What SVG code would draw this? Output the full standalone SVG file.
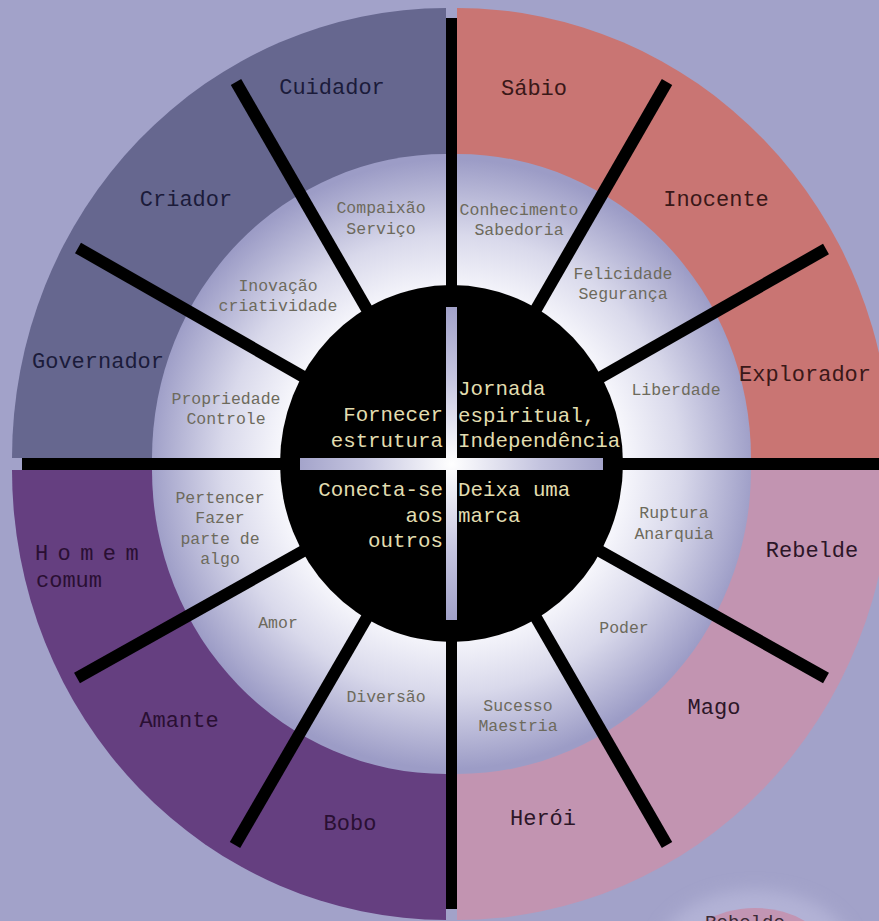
<svg xmlns="http://www.w3.org/2000/svg" width="879" height="921" viewBox="0 0 879 921">
<defs>
  <radialGradient id="ringGrad" gradientUnits="userSpaceOnUse" cx="451.5" cy="464" r="305">
    <stop offset="0.56" stop-color="#f7f7fc"/>
    <stop offset="0.75" stop-color="#d9d9eb"/>
    <stop offset="1" stop-color="#9c9cc6"/>
  </radialGradient>
  <radialGradient id="crossGrad" gradientUnits="userSpaceOnUse" cx="451.5" cy="464" r="160">
    <stop offset="0" stop-color="#ffffff"/>
    <stop offset="0.55" stop-color="#c4c4df"/>
    <stop offset="1" stop-color="#a0a0c8"/>
  </radialGradient>
  <filter id="blur" x="-50%" y="-50%" width="200%" height="200%">
    <feGaussianBlur stdDeviation="8"/>
  </filter>
  <style>
    .mono { font-family: "Liberation Mono", "Courier New", "DejaVu Sans Mono", monospace; }
    .outer { font-size: 22px; text-anchor: middle; }
    .inner { font-size: 16.5px; text-anchor: middle; fill: #6d6a5c; }
    .center { font-size: 20.8px; fill: #e2ddb0; }
    .tl { fill: #1b1b3a; }
    .tr { fill: #3a1818; }
    .bl { fill: #2a0f33; }
    .br { fill: #2c1628; }
    .spoke { stroke: #000; stroke-width: 12; stroke-linecap: butt; }
  </style>
</defs>

<rect width="879" height="921" fill="#a2a2c9"/>

<!-- bottom partial figure -->
<g id="rebelde-fragment">
  <ellipse cx="755" cy="960" rx="100" ry="70" fill="#b2b2d6" filter="url(#blur)"/>
  <ellipse cx="755" cy="958" rx="74" ry="50" fill="#c295b3"/>
  <text class="mono" x="745" y="928" font-size="19" text-anchor="middle" fill="#3a2a35">Rebelde</text>
</g>

<!-- quadrants -->
<g id="quadrant-tl">
  <path d="M446 458 L446 8 A434 450 0 0 0 12 458 Z" fill="#66678f"/>
  <path d="M446 458 L446 154 A294 304 0 0 0 152 458 Z" fill="url(#ringGrad)"/>
</g>
<g id="quadrant-tr">
  <path d="M457 458 L457 8 A434 450 0 0 1 891 458 Z" fill="#c97573"/>
  <path d="M457 458 L457 154 A294 304 0 0 1 751 458 Z" fill="url(#ringGrad)"/>
</g>
<g id="quadrant-bl">
  <path d="M446 470 L12 470 A434 450 0 0 0 446 920 Z" fill="#653f80"/>
  <path d="M446 470 L152 470 A294 304 0 0 0 446 774 Z" fill="url(#ringGrad)"/>
</g>
<g id="quadrant-br">
  <path d="M457 470 L891 470 A434 450 0 0 1 457 920 Z" fill="#c294b1"/>
  <path d="M457 470 L751 470 A294 304 0 0 1 457 774 Z" fill="url(#ringGrad)"/>
</g>

<!-- dividers -->
<g id="connectors">
  <rect x="446" y="18" width="11" height="891" fill="#000"/>
  <rect x="22" y="458" width="857" height="12" fill="#000"/>
  <line class="spoke" x1="236" y1="82" x2="380" y2="332"/>
  <line class="spoke" x1="78" y1="248" x2="330" y2="392"/>
  <line class="spoke" x1="667" y1="82" x2="523" y2="332"/>
  <line class="spoke" x1="826" y1="249" x2="573" y2="393"/>
  <line class="spoke" x1="77" y1="678" x2="330" y2="536"/>
  <line class="spoke" x1="235" y1="845" x2="380" y2="595"/>
  <line class="spoke" x1="826" y1="678" x2="573" y2="536"/>
  <line class="spoke" x1="667" y1="845" x2="523" y2="595"/>
</g>

<!-- center -->
<g id="center">
  <ellipse cx="451.5" cy="463.5" rx="171.5" ry="178.5" fill="#000"/>
  <rect x="446" y="307" width="11" height="313" fill="url(#crossGrad)"/>
  <rect x="300" y="458" width="303" height="12" fill="url(#crossGrad)"/>
</g>

<g id="center-tl" class="mono center" text-anchor="end">
  <text x="443" y="421">Fornecer</text>
  <text x="443" y="447">estrutura</text>
</g>
<g id="center-tr" class="mono center">
  <text x="458" y="395">Jornada</text>
  <text x="458" y="422">espiritual,</text>
  <text x="458" y="447">Independência</text>
</g>
<g id="center-bl" class="mono center" text-anchor="end">
  <text x="443" y="496">Conecta-se</text>
  <text x="443" y="522">aos</text>
  <text x="443" y="547">outros</text>
</g>
<g id="center-br" class="mono center">
  <text x="458" y="496">Deixa uma</text>
  <text x="458" y="522">marca</text>
</g>

<!-- archetypes -->
<g id="cuidador" class="mono">
  <text class="outer tl" x="332" y="94">Cuidador</text>
  <text class="inner" x="381" y="213">Compaixão</text>
  <text class="inner" x="381" y="234">Serviço</text>
</g>
<g id="criador" class="mono">
  <text class="outer tl" x="186" y="206">Criador</text>
  <text class="inner" x="278" y="291">Inovação</text>
  <text class="inner" x="278" y="311">criatividade</text>
</g>
<g id="governador" class="mono">
  <text class="outer tl" x="98" y="368">Governador</text>
  <text class="inner" x="226" y="404">Propriedade</text>
  <text class="inner" x="226" y="424">Controle</text>
</g>
<g id="sabio" class="mono">
  <text class="outer tr" x="534" y="95">Sábio</text>
  <text class="inner" x="519" y="215">Conhecimento</text>
  <text class="inner" x="519" y="235">Sabedoria</text>
</g>
<g id="inocente" class="mono">
  <text class="outer tr" x="716" y="206">Inocente</text>
  <text class="inner" x="623" y="279">Felicidade</text>
  <text class="inner" x="623" y="299">Segurança</text>
</g>
<g id="explorador" class="mono">
  <text class="outer tr" x="805" y="381">Explorador</text>
  <text class="inner" x="676" y="395">Liberdade</text>
</g>
<g id="homem-comum" class="mono">
  <text class="bl" x="35" y="560" font-size="22" letter-spacing="9.4">Homem</text>
  <text class="bl" x="36" y="587" font-size="22">comum</text>
  <text class="inner" x="220" y="503">Pertencer</text>
  <text class="inner" x="220" y="523">Fazer</text>
  <text class="inner" x="220" y="544">parte de</text>
  <text class="inner" x="220" y="564">algo</text>
</g>
<g id="amante" class="mono">
  <text class="outer bl" x="179" y="727">Amante</text>
  <text class="inner" x="278" y="628">Amor</text>
</g>
<g id="bobo" class="mono">
  <text class="outer bl" x="350" y="830">Bobo</text>
  <text class="inner" x="386" y="702">Diversão</text>
</g>
<g id="rebelde" class="mono">
  <text class="outer br" x="812" y="557">Rebelde</text>
  <text class="inner" x="674" y="518">Ruptura</text>
  <text class="inner" x="674" y="539">Anarquia</text>
</g>
<g id="mago" class="mono">
  <text class="outer br" x="714" y="714">Mago</text>
  <text class="inner" x="624" y="633">Poder</text>
</g>
<g id="heroi" class="mono">
  <text class="outer br" x="543" y="825">Herói</text>
  <text class="inner" x="518" y="711">Sucesso</text>
  <text class="inner" x="518" y="731">Maestria</text>
</g>
</svg>
